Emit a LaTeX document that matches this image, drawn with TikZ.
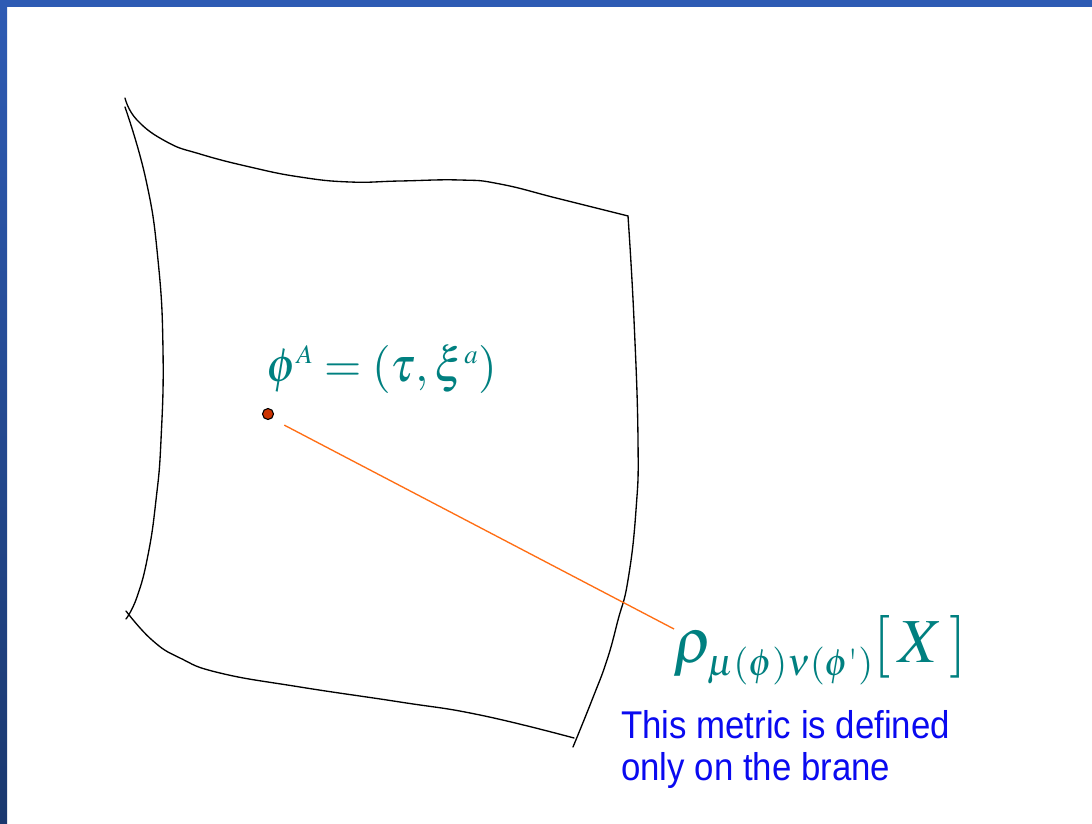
\documentclass[tikz,border=0pt]{standalone}
\usepackage{amsmath}
\usepackage{mathptmx}
\usepackage[no-math]{fontspec}
\setsansfont{Liberation Sans}[FakeStretch=0.9]
\DeclareMathSizes{36}{36}{20}{14}
\DeclareMathSizes{47}{47}{28.5}{20}
\definecolor{barblue}{RGB}{46,91,180}
\definecolor{bardark}{RGB}{26,56,110}
\definecolor{mteal}{RGB}{0,128,128}
\definecolor{dotred}{RGB}{204,51,0}
\definecolor{lineorange}{RGB}{255,110,20}
\definecolor{txtblue}{RGB}{10,10,240}
\tikzset{
  edge/.style={black, line width=1pt, line cap=round},
  mathlbl/.style={text=mteal, inner sep=0pt, anchor=base west},
  note/.style={text=txtblue, inner sep=0pt, anchor=base west, font=\sffamily\fontsize{29}{32}\selectfont},
  pointdot/.style={circle, fill=dotred, draw=black, line width=0.8pt, minimum size=8.25pt, inner sep=0pt},
  connector/.style={lineorange, line width=1pt}
}
\begin{document}
\begin{tikzpicture}[x=0.75pt, y=-0.75pt]
\useasboundingbox (0,0) rectangle (1092,824);
\fill[white] (0,0) rectangle (1092,824);
% frame bars
\shade[top color=barblue, bottom color=bardark] (0,0) rectangle (7,824);
\fill[barblue] (0,0) rectangle (1092,7);
% brane surface edges
\draw[edge] plot[smooth, tension=0.8] coordinates {(125,98) (137,120) (167,142) (200,154) (250,167) (300,177) (350,182) (400,181) (460,180) (500,184) (560,199) (628,216)};
\draw[edge] plot[smooth, tension=0.8] coordinates {(628,216) (634,320) (638,440) (636,510) (628,580) (618,620) (607,660) (592,700) (573,747)};
\draw[edge] plot[smooth, tension=0.8] coordinates {(125,107) (146,180) (158,260) (163,350) (161,440) (156,500) (148,555) (137,597) (126,619)};
\draw[edge] plot[smooth, tension=0.8] coordinates {(126,611) (152,640) (180,658) (220,673) (300,687) (400,702) (480,715) (574,738)};
% point and labels
\node[pointdot] (pt) at (268,414) {};
\node[mathlbl, font=\fontsize{36}{40}\selectfont] (phiA) at (266,381) {$\phi^{A} = (\tau,\xi^{a})$};
\node[mathlbl, font=\fontsize{47}{50}\selectfont] (rho) at (673,662) {$\rho_{\lower3pt\hbox{$\scriptstyle\mu(\phi)\nu(\phi\text{\textquotesingle})$}}[\,X\,]$};
\coordinate (rhoend) at (674,629);
\draw[connector, shorten <=10.5pt] (pt.-50) -- (rhoend);
\node[note] (note1) at (621,738) {This metric is defined};
\node[note] (note2) at (621,780) {only on the brane};
\end{tikzpicture}
\end{document}
